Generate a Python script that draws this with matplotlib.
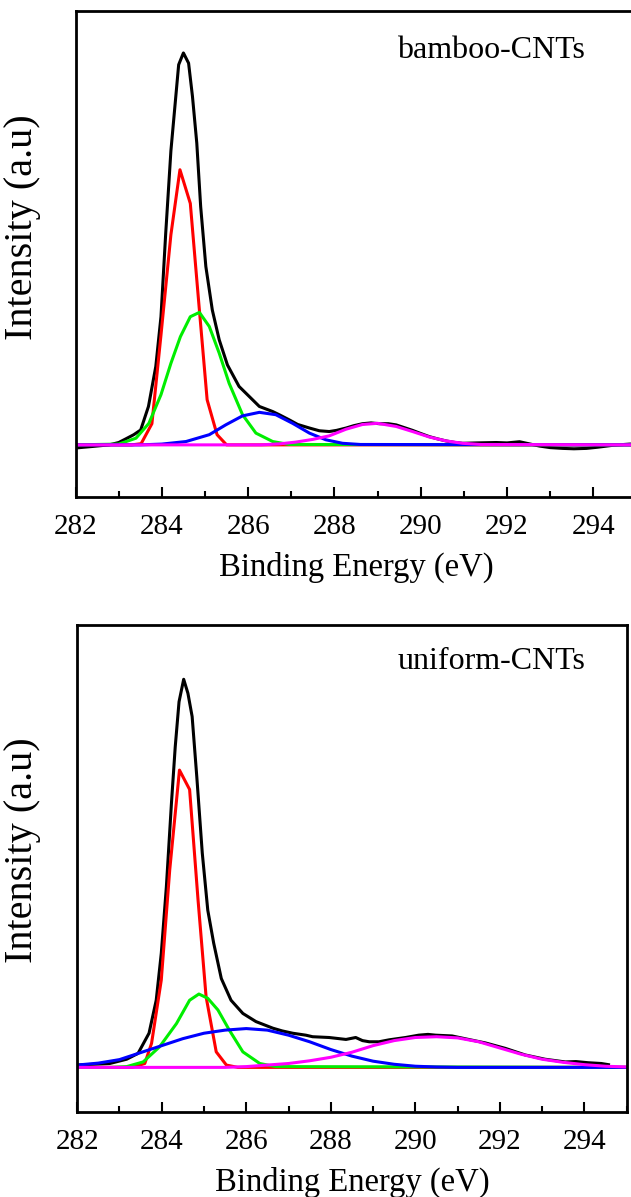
import matplotlib.pyplot as plt
from matplotlib.ticker import MultipleLocator

plt.rcParams["font.family"] = ["Liberation Serif", "DejaVu Serif"]

# ---- bamboo-CNTs (top) ----
top_E_raw = [282.0, 282.4, 282.78, 283.0, 283.16, 283.35, 283.51, 283.69, 283.86, 283.98,
             284.09, 284.21, 284.30, 284.39, 284.50, 284.62, 284.71, 284.81, 284.90, 285.02,
             285.17, 285.33, 285.52, 285.79, 286.03, 286.26, 286.57, 286.72, 286.95, 287.15,
             287.42, 287.65, 287.88, 288.05, 288.27, 288.45, 288.65, 288.85, 289.04, 289.25,
             289.43, 289.62, 289.81, 290.0, 290.2, 290.4, 290.59, 290.8, 290.97, 291.3,
             291.75, 292.0, 292.29, 292.5, 292.75, 293.0, 293.29, 293.55, 293.84, 294.1,
             294.46, 294.84, 295.0]
top_raw = [-0.8, -0.4, 0.0, 0.6, 1.5, 2.6, 3.8, 9.8, 20.0, 32.7,
           54.0, 75.0, 86.0, 97.0, 100.0, 97.4, 88.9, 77.0, 60.8, 45.5,
           34.4, 26.8, 20.4, 14.9, 12.3, 9.8, 8.5, 7.7, 6.4, 5.2,
           4.3, 3.6, 3.4, 3.7, 4.3, 4.9, 5.4, 5.6, 5.4, 5.4,
           5.1, 4.4, 3.7, 2.9, 2.1, 1.5, 1.0, 0.6, 0.4, 0.5,
           0.6, 0.5, 0.8, 0.3, -0.3, -0.7, -0.9, -1.0, -0.9, -0.6,
           -0.1, 0.2, 0.2]

top_E_red = [282.0, 283.3, 283.52, 283.77, 283.98, 284.21, 284.42, 284.66, 284.85, 285.05, 285.28, 285.5, 295.0]
top_red = [0.0, 0.0, 0.3, 5.4, 28.0, 53.6, 70.2, 61.6, 37.0, 11.5, 2.6, 0.0, 0.0]

top_E_green = [282.0, 283.0, 283.4, 283.7, 283.98, 284.21, 284.43, 284.66, 284.87, 285.1,
               285.33, 285.56, 285.87, 286.18, 286.57, 286.95, 295.0]
top_green = [0.0, 0.2, 1.7, 5.5, 12.8, 20.8, 27.6, 32.7, 33.8, 30.2,
             23.4, 15.7, 7.7, 3.0, 0.85, 0.1, 0.0]

top_E_blue = [282.0, 283.5, 284.0, 284.56, 285.1, 285.48, 285.87, 286.26, 286.64, 287.03,
              287.42, 287.8, 288.19, 288.6, 295.0]
top_blue = [0.0, 0.0, 0.2, 0.85, 2.6, 5.1, 7.4, 8.3, 7.7, 5.5,
            3.0, 1.3, 0.4, 0.1, 0.0]

top_E_mag = [282.0, 286.3, 286.72, 287.1, 287.5, 287.88, 288.27, 288.65, 289.0, 289.43,
             289.81, 290.2, 290.59, 290.97, 291.4, 295.0]
top_mag = [0.0, 0.0, 0.25, 0.7, 1.4, 2.3, 4.0, 5.2, 5.5, 4.7,
           3.4, 2.0, 1.0, 0.4, 0.1, 0.0]

# ---- uniform-CNTs (bottom) ----
bot_E_raw = [282.0, 282.4, 282.77, 283.17, 283.44, 283.70, 283.87, 283.99, 284.11, 284.23,
             284.32, 284.41, 284.52, 284.62, 284.72, 284.83, 284.96, 285.09, 285.23, 285.41,
             285.64, 285.92, 286.23, 286.63, 286.85, 287.10, 287.41, 287.57, 287.96, 288.12,
             288.36, 288.59, 288.75, 288.91, 289.14, 289.38, 289.77, 290.08, 290.3, 290.48,
             290.87, 291.26, 291.66, 292.13, 292.6, 293.07, 293.55, 293.8, 294.09, 294.4,
             294.57]
bot_raw = [0.6, 0.8, 1.0, 2.1, 3.6, 8.8, 17.3, 29.4, 46.5, 68.0,
           82.6, 94.2, 100.0, 96.4, 90.4, 74.9, 55.2, 40.5, 32.0, 22.9,
           17.3, 13.9, 11.8, 10.1, 9.4, 8.8, 8.3, 7.9, 7.7, 7.5,
           7.2, 7.7, 6.9, 6.6, 6.6, 7.1, 7.7, 8.3, 8.5, 8.3,
           8.1, 7.2, 6.3, 4.9, 3.2, 2.1, 1.4, 1.5, 1.2, 1.0,
           0.7]

bot_E_red = [282.0, 283.3, 283.6, 283.76, 283.99, 284.19, 284.42, 284.66, 284.86, 285.05, 285.29, 285.53, 285.8, 295.0]
bot_red = [0.0, 0.0, 1.0, 6.2, 22.5, 50.9, 76.6, 71.6, 43.1, 18.2, 4.0, 0.6, 0.0, 0.0]

bot_E_green = [282.0, 282.8, 283.17, 283.56, 283.95, 284.35, 284.66, 284.88, 285.09, 285.33,
               285.6, 285.92, 286.32, 286.7, 295.0]
bot_green = [0.0, 0.0, 0.2, 1.4, 5.3, 11.3, 17.3, 18.9, 17.8, 14.8,
             9.6, 4.0, 1.0, 0.2, 0.0]

bot_E_blue = [282.0, 282.5, 283.0, 283.5, 284.0, 284.5, 285.0, 285.5, 286.0, 286.5,
              287.0, 287.5, 288.0, 288.5, 289.0, 289.5, 290.0, 290.5, 291.0, 295.0]
bot_blue = [0.6, 1.1, 2.0, 3.8, 5.6, 7.4, 8.8, 9.6, 10.0, 9.6,
            8.3, 6.6, 4.6, 2.9, 1.6, 0.8, 0.3, 0.1, 0.0, 0.0]

bot_E_mag = [282.0, 285.5, 286.0, 286.5, 287.0, 287.5, 288.0, 288.5, 289.0, 289.5,
             290.0, 290.5, 291.0, 291.5, 292.0, 292.5, 293.0, 293.5, 294.0, 294.5, 295.0]
bot_mag = [0.0, 0.0, 0.2, 0.6, 1.0, 1.7, 2.6, 3.9, 5.6, 6.9,
           7.7, 7.9, 7.6, 6.6, 5.0, 3.4, 2.1, 1.3, 0.7, 0.3, 0.1]

panels = [
    dict(name='bamboo-CNTs', rect=[0.1197, 0.5848, 0.889, 0.406], ylim=(-13.3, 110.7),
         text_xy=(0.573, 0.918), label_xy=(-0.062, 0.556),
         curves=[(top_E_raw, top_raw, 'black'), (top_E_red, top_red, '#ff0000'),
                 (top_E_green, top_green, '#00ee00'), (top_E_blue, top_blue, '#0000ff'),
                 (top_E_mag, top_mag, '#ff00ff')]),
    dict(name='uniform-CNTs', rect=[0.1223, 0.0710, 0.8708, 0.4069], ylim=(-11.5, 114.0),
         text_xy=(0.584, 0.924), label_xy=(-0.066, 0.538),
         curves=[(bot_E_raw, bot_raw, 'black'), (bot_E_red, bot_red, '#ff0000'),
                 (bot_E_green, bot_green, '#00ee00'), (bot_E_blue, bot_blue, '#0000ff'),
                 (bot_E_mag, bot_mag, '#ff00ff')]),
]

fig = plt.figure(figsize=(6.31, 11.97), dpi=100)

for p in panels:
    ax = fig.add_axes(p['rect'])
    for x, y, c in p['curves']:
        ax.plot(x, y, color=c, lw=2.2)
    ax.set_xlim(282, 295)
    ax.set_ylim(*p['ylim'])
    ax.set_xticks([282, 284, 286, 288, 290, 292, 294])
    ax.xaxis.set_minor_locator(MultipleLocator(1))
    ax.set_yticks([])
    ax.tick_params(axis='x', which='major', direction='in', length=7, width=1.5,
                   labelsize=21, pad=12)
    ax.tick_params(axis='x', which='minor', direction='in', length=4.5, width=1.5)
    for s in ax.spines.values():
        s.set_linewidth(2)
    ax.set_xlabel('Binding Energy (eV)', fontsize=23.5, labelpad=9)
    ax.set_ylabel('Intensity (a.u)', fontsize=29)
    ax.yaxis.set_label_coords(*p['label_xy'])
    ax.text(p['text_xy'][0], p['text_xy'][1], p['name'], transform=ax.transAxes,
            fontsize=23, ha='left', va='center')

fig.savefig('out.png', dpi=100)
